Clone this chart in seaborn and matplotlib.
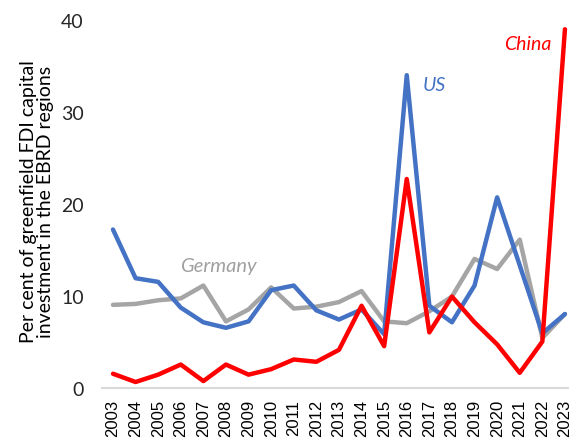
import pandas as pd
import matplotlib
matplotlib.use("Agg")
import matplotlib.pyplot as plt
import seaborn as sns

years = list(range(2003, 2024))
us = [17.2, 11.9, 11.5, 8.7, 7.1, 6.5, 7.2, 10.6, 11.1, 8.4, 7.4, 8.5, 5.8,
      34.0, 8.9, 7.1, 11.1, 20.7, 13.3, 5.9, 8.0]
germany = [9.0, 9.1, 9.5, 9.7, 11.1, 7.2, 8.5, 10.9, 8.6, 8.8, 9.3, 10.5, 7.2,
           7.0, 8.3, 9.9, 14.0, 12.9, 16.1, 5.4, 8.0]
china = [1.5, 0.6, 1.4, 2.5, 0.7, 2.5, 1.4, 2.0, 3.05, 2.8, 4.1, 8.9, 4.5,
         22.7, 6.0, 9.9, 7.1, 4.7, 1.6, 5.0, 39.0]

series_names = ["Germany", "US", "China"]
colors = {"Germany": "#A5A5A5", "US": "#4472C4", "China": "#FF0000"}
ylabel = "Per cent of greenfield FDI capital\ninvestment in the EBRD regions"

# long form table for seaborn
df = pd.concat([
    pd.DataFrame({"year": years, "value": germany, "country": "Germany"}),
    pd.DataFrame({"year": years, "value": us, "country": "US"}),
    pd.DataFrame({"year": years, "value": china, "country": "China"}),
])

sns.set_theme(style="white")
plt.rcParams['font.family'] = ['Lato', 'DejaVu Sans']

fig = plt.figure(figsize=(5.69, 4.39), dpi=100)
ax = fig.add_axes([0.1787, 0.115, 0.834, 0.837])

sns.lineplot(data=df, x="year", y="value", hue="country", hue_order=series_names,
             palette=colors, linewidth=3.2, legend=False, ax=ax, clip_on=False)

ax.set_xlim(2002.5, 2023.5)
ax.set_ylim(0, 40)
ax.set_yticks([0, 10, 20, 30, 40])
ax.set_xticks(years)
ax.set_xticklabels([str(y) for y in years], rotation=90,
                   fontfamily="Liberation Sans", fontsize=12, color="black")
ax.tick_params(axis="x", length=0, pad=8)
ax.tick_params(axis="y", length=0, pad=13, labelsize=14, labelcolor="#262626")

for s in ["top", "right", "left"]:
    ax.spines[s].set_visible(False)
ax.spines["bottom"].set_color("#D9D9D9")
ax.spines["bottom"].set_linewidth(1.5)

ax.set_xlabel("")
ax.set_ylabel(ylabel, fontsize=14, color="black", linespacing=1.05, va="center")
ax.yaxis.set_label_coords(-0.136, 0.509)

# series labels
ax.text(2016.7, 33.0, "US", color=colors["US"], fontsize=14, style="italic",
        ha="left", va="center")
ax.text(2021.35, 37.5, "China", color=colors["China"], fontsize=14, style="italic",
        ha="center", va="center")
ax.text(2007.65, 13.3, "Germany", color="#A0A0A0", fontsize=14.5, style="italic",
        ha="center", va="center")

fig.savefig("out.png", dpi=100)
